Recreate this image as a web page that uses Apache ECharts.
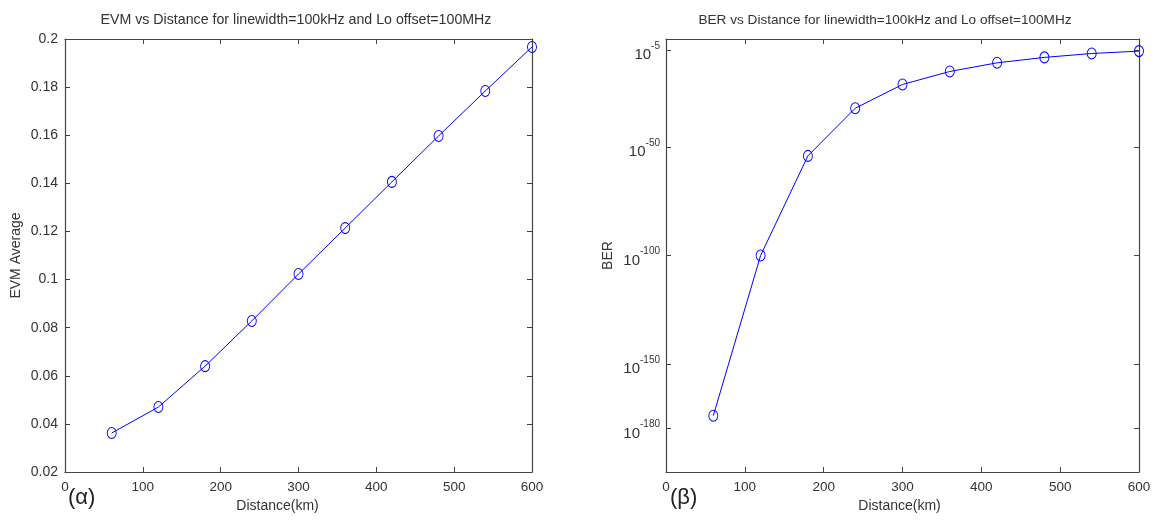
<!DOCTYPE html>
<html>
<head>
<meta charset="utf-8">
<script src="https://cdn.jsdelivr.net/npm/echarts@6/dist/echarts.min.js"></script>
<style>
html,body{margin:0;padding:0;background:#fff;}
#chart{width:1156px;height:520px;}
</style>
</head>
<body>
<div id="chart"></div>
<script>
// ---- data ----
const distance = [60, 120, 180, 240, 300, 360, 420, 480, 540, 600];
const evmAverage = [0.0362, 0.047, 0.064, 0.0828, 0.1023, 0.1214, 0.1406, 0.1597, 0.1784, 0.1967];
// BER shown on a log axis; values stored as log10(BER)
const berLog10 = [-174, -100, -54, -32, -21, -15, -11, -8.5, -6.7, -5.6];
const xTicks = [0, 100, 200, 300, 400, 500, 600];
const berTickExps = [-180, -150, -100, -50, -5];
const titleLeft = 'EVM vs Distance for linewidth=100kHz and Lo offset=100MHz';
const titleRight = 'BER vs Distance for linewidth=100kHz and Lo offset=100MHz';

const FONT = "'Liberation Sans', Arial, sans-serif";
const TXT = '#333';
const AX = '#444';

const chart = echarts.init(document.getElementById('chart'), null, {renderer: 'canvas'});

function boxAxis(extra) {
  return Object.assign({
    axisLine: {show: true, onZero: false, lineStyle: {color: AX, width: 1.2}},
    axisTick: {show: true, inside: true, length: 5, lineStyle: {color: AX}},
    splitLine: {show: false},
    axisLabel: {show: false},
  }, extra);
}

const xCommon = {type: 'value', min: 0, max: 600, interval: 100};
const markerStyle = {color: 'transparent', borderColor: '#0000ff', borderWidth: 1};

const option = {
  animation: false,
  backgroundColor: '#fff',
  textStyle: {fontFamily: FONT},
  title: [
    {text: titleLeft, left: 291, top: 8, textAlign: 'center',
     textStyle: {fontSize: 14.2, fontWeight: 'normal', color: TXT, fontFamily: FONT}},
    {text: titleRight, left: 880, top: 8, textAlign: 'center',
     textStyle: {fontSize: 13.6, fontWeight: 'normal', color: TXT, fontFamily: FONT}}
  ],
  grid: [
    {left: 65, right: 624, top: 39, bottom: 48},
    {left: 666, right: 17, top: 39, bottom: 48}
  ],
  xAxis: [
    boxAxis(Object.assign({}, xCommon, {gridIndex: 0, position: 'bottom',
      axisLabel: {show: true, fontSize: 13.5, color: TXT, margin: 8, fontFamily: FONT},
      name: 'Distance(km)', nameLocation: 'middle', nameGap: 25,
      nameTextStyle: {fontSize: 14, color: TXT, fontFamily: FONT, padding: [0, 42, 0, 0]}})),
    boxAxis(Object.assign({}, xCommon, {gridIndex: 0, position: 'top'})),
    boxAxis(Object.assign({}, xCommon, {gridIndex: 1, position: 'bottom',
      axisLabel: {show: true, fontSize: 13.5, color: TXT, margin: 8, fontFamily: FONT},
      name: 'Distance(km)', nameLocation: 'middle', nameGap: 25,
      nameTextStyle: {fontSize: 14, color: TXT, fontFamily: FONT, padding: [0, 6, 0, 0]}})),
    boxAxis(Object.assign({}, xCommon, {gridIndex: 1, position: 'top'}))
  ],
  yAxis: [
    boxAxis({type: 'value', gridIndex: 0, min: 0.02, max: 0.2, interval: 0.02, position: 'left',
      axisLabel: {show: true, fontSize: 14, color: TXT, margin: 7, fontFamily: FONT},
      name: 'EVM Average', nameLocation: 'middle', nameGap: 42, nameRotate: 90,
      nameTextStyle: {fontSize: 14, color: TXT, fontFamily: FONT}}),
    boxAxis({type: 'value', gridIndex: 0, min: 0.02, max: 0.2, interval: 0.02, position: 'right'}),
    boxAxis({type: 'value', gridIndex: 1, min: -200, max: 0, interval: 50, position: 'left',
      axisTick: {show: true, inside: true, length: 5, lineStyle: {color: AX}, customValues: berTickExps},
      axisLabel: {show: true, margin: 6, customValues: berTickExps,
        formatter: function (v) { return '{b|10}{s|' + v + '}'; },
        rich: {
          b: {fontSize: 15, color: TXT, fontFamily: FONT, padding: [10, 0, 0, 0]},
          s: {fontSize: 10, color: TXT, fontFamily: FONT, padding: [0, 0, 8, 0]}
        }},
      name: 'BER', nameLocation: 'middle', nameGap: 51, nameRotate: 90,
      nameTextStyle: {fontSize: 14, color: TXT, fontFamily: FONT}}),
    boxAxis({type: 'value', gridIndex: 1, min: -200, max: 0, interval: 50, position: 'right',
      axisTick: {show: true, inside: true, length: 5, lineStyle: {color: AX}, customValues: berTickExps}})
  ],
  graphic: [
    {type: 'text', left: 68, top: 487, style: {text: '(α)', fontSize: 22, fill: '#222', fontFamily: FONT}},
    {type: 'text', left: 670, top: 487, style: {text: '(β)', fontSize: 22, fill: '#222', fontFamily: FONT}}
  ],
  series: [
    {type: 'line', xAxisIndex: 0, yAxisIndex: 0,
     data: distance.map((d, i) => [d, evmAverage[i]]),
     symbol: 'circle', symbolSize: [9, 11],
     lineStyle: {color: '#0000ff', width: 1},
     itemStyle: markerStyle},
    {type: 'line', xAxisIndex: 2, yAxisIndex: 2,
     data: distance.map((d, i) => [d, berLog10[i]]),
     symbol: 'circle', symbolSize: [9, 11],
     lineStyle: {color: '#0000ff', width: 1},
     itemStyle: markerStyle}
  ]
};
chart.setOption(option);
</script>
</body>
</html>
